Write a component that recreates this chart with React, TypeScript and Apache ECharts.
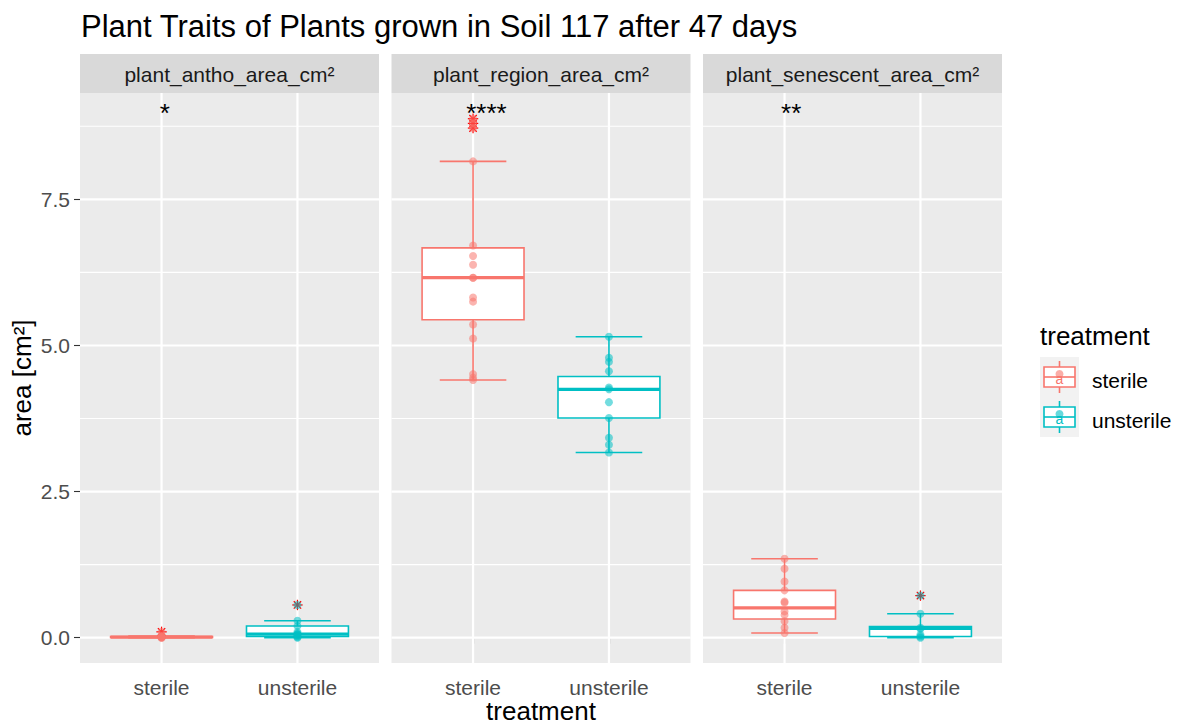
import React, { useEffect, useRef } from 'react';
import * as echarts from 'echarts';

const treatments = ['sterile', 'unsterile'];
const facets = ['plant_antho_area_cm²', 'plant_region_area_cm²', 'plant_senescent_area_cm²'];
const yTicks = [0, 2.5, 5, 7.5];
const yMinor = [1.25, 3.75, 6.25, 8.75];
const xPositions = [1, 2];

// [lower whisker, q1, median, q3, upper whisker]
const anthoSterileBox = [0, 0.004, 0.01, 0.02, 0.03];
const anthoUnsterileBox = [0, 0.02, 0.06, 0.2, 0.29];
const regionSterileBox = [4.41, 5.44, 6.16, 6.67, 8.15];
const regionUnsterileBox = [3.17, 3.76, 4.25, 4.47, 5.15];
const senescentSterileBox = [0.08, 0.32, 0.51, 0.81, 1.35];
const senescentUnsterileBox = [0, 0.02, 0.16, 0.19, 0.41];

const anthoSterilePoints = [0, 0, 0.01, 0.01, 0.02, 0.02, 0.03, 0.1];
const anthoUnsterilePoints = [0, 0.01, 0.03, 0.05, 0.06, 0.07, 0.1, 0.2, 0.29, 0.56];
const regionSterilePoints = [4.41, 4.45, 4.51, 5.12, 5.36, 5.75, 5.82, 6.16, 6.16, 6.38, 6.53, 6.71, 8.15, 8.72, 8.8, 8.88];
const regionUnsterilePoints = [3.17, 3.3, 3.42, 3.76, 4.03, 4.25, 4.28, 4.56, 4.72, 4.79, 5.15];
const senescentSterilePoints = [0.08, 0.17, 0.28, 0.39, 0.45, 0.6, 0.62, 0.81, 0.96, 1.18, 1.35];
const senescentUnsterilePoints = [0, 0.02, 0.05, 0.15, 0.17, 0.41, 0.72];

const anthoSterileOutliers = [0.1];
const anthoUnsterileOutliers = [0.56];
const regionSterileOutliers = [8.72, 8.8, 8.88];
const regionUnsterileOutliers: number[] = [];
const senescentSterileOutliers: number[] = [];
const senescentUnsterileOutliers = [0.72];

const sigLabels = ['*', '****', '**'];
const sigY = [8.98, 8.98, 8.98];

const boxes = [
  [anthoSterileBox, anthoUnsterileBox],
  [regionSterileBox, regionUnsterileBox],
  [senescentSterileBox, senescentUnsterileBox],
];
const points = [
  [anthoSterilePoints, anthoUnsterilePoints],
  [regionSterilePoints, regionUnsterilePoints],
  [senescentSterilePoints, senescentUnsterilePoints],
];
const outliers = [
  [anthoSterileOutliers, anthoUnsterileOutliers],
  [regionSterileOutliers, regionUnsterileOutliers],
  [senescentSterileOutliers, senescentUnsterileOutliers],
];

const FONT = '"Liberation Sans", Arial, Helvetica, sans-serif';
const COLORS = ['#F8766D', '#00BFC4'];
const PANEL_LEFT = [80, 391.5, 703];
const PANEL_TOP = 93;
const PANEL_W = 299;
const PANEL_H = 570;
const STRIP_H = 39;

function buildOption() {
  const grids: any[] = [];
  const xAxes: any[] = [];
  const yAxes: any[] = [];
  const series: any[] = [];
  const graphic: any[] = [];

  facets.forEach((facet, f) => {
    grids.push({
      left: PANEL_LEFT[f], top: PANEL_TOP, width: PANEL_W, height: PANEL_H,
      show: true, backgroundColor: '#EBEBEB', borderWidth: 0,
      containLabel: false, outerBoundsMode: 'none',
    });
    xAxes.push({
      type: 'value', gridIndex: f, min: 0.4, max: 2.6,
      axisLine: { show: false },
      splitLine: { show: false },
      axisTick: { show: true, customValues: xPositions, length: 6, lineStyle: { color: '#333333', width: 1.1 } },
      axisLabel: {
        show: true, customValues: xPositions, margin: 14,
        formatter: (v: number) => treatments[Math.round(v) - 1] ?? '',
        fontSize: 21, color: '#4D4D4D', fontFamily: FONT,
      },
      name: f === 1 ? 'treatment' : '',
      nameLocation: 'middle', nameGap: 35, nameMoveOverlap: false,
      nameTextStyle: { fontSize: 26, lineHeight: 26, color: '#000', fontFamily: FONT },
    });
    yAxes.push({
      type: 'value', gridIndex: f, min: -0.433, max: 9.32,
      axisLine: { show: false },
      splitLine: { show: false },
      axisTick: { show: f === 0, customValues: yTicks, length: 6, lineStyle: { color: '#333333', width: 1.1 } },
      axisLabel: {
        show: f === 0, customValues: yTicks, margin: 10,
        formatter: (v: number) => v.toFixed(1),
        fontSize: 21, color: '#4D4D4D', fontFamily: FONT,
      },
      name: f === 0 ? 'area [cm²]' : '',
      nameLocation: 'middle', nameGap: 45, nameRotate: 90, nameMoveOverlap: false,
      nameTextStyle: { fontSize: 26, color: '#000', fontFamily: FONT },
    });

    // gridlines
    const hLine = (width: number) => (params: any, api: any) => {
      const cs = params.coordSys;
      const y = api.coord([1, api.value(1)])[1];
      return { type: 'line', shape: { x1: cs.x, y1: y, x2: cs.x + cs.width, y2: y }, style: { stroke: '#FFFFFF', lineWidth: width } };
    };
    series.push({ type: 'custom', xAxisIndex: f, yAxisIndex: f, silent: true, data: yMinor.map((v) => [1, v]), renderItem: hLine(1.1) });
    series.push({ type: 'custom', xAxisIndex: f, yAxisIndex: f, silent: true, data: yTicks.map((v) => [1, v]), renderItem: hLine(2.2) });
    series.push({
      type: 'custom', xAxisIndex: f, yAxisIndex: f, silent: true,
      data: xPositions.map((x) => [x, 0]),
      renderItem: (params: any, api: any) => {
        const cs = params.coordSys;
        const x = api.coord([api.value(0), 0])[0];
        return { type: 'line', shape: { x1: x, y1: cs.y, x2: x, y2: cs.y + cs.height }, style: { stroke: '#FFFFFF', lineWidth: 2.2 } };
      },
    });

    treatments.forEach((t, ti) => {
      const color = COLORS[ti];
      const b = boxes[f][ti];
      series.push({
        type: 'custom', name: t, xAxisIndex: f, yAxisIndex: f, silent: true,
        data: [[ti + 1, ...b]],
        renderItem: (params: any, api: any) => {
          const x = api.value(0);
          const lo = api.coord([x, api.value(1)]);
          const q1 = api.coord([x - 0.375, api.value(2)]);
          const med = api.coord([x - 0.375, api.value(3)]);
          const q3 = api.coord([x + 0.375, api.value(4)]);
          const hi = api.coord([x, api.value(5)]);
          const capL = api.coord([x - 0.245, 0])[0];
          const capR = api.coord([x + 0.245, 0])[0];
          const lw = 1.6;
          return {
            type: 'group',
            children: [
              { type: 'line', shape: { x1: lo[0], y1: lo[1], x2: hi[0], y2: hi[1] }, style: { stroke: color, lineWidth: lw } },
              { type: 'line', shape: { x1: capL, y1: lo[1], x2: capR, y2: lo[1] }, style: { stroke: color, lineWidth: lw } },
              { type: 'line', shape: { x1: capL, y1: hi[1], x2: capR, y2: hi[1] }, style: { stroke: color, lineWidth: lw } },
              { type: 'rect', shape: { x: q1[0], y: q3[1], width: q3[0] - q1[0], height: q1[1] - q3[1] }, style: { fill: '#FFFFFF', stroke: color, lineWidth: lw } },
              { type: 'line', shape: { x1: q1[0], y1: med[1], x2: q3[0], y2: med[1] }, style: { stroke: color, lineWidth: lw * 2 } },
            ],
          };
        },
      });
    });

    treatments.forEach((t, ti) => {
      series.push({
        type: 'scatter', name: t, xAxisIndex: f, yAxisIndex: f, silent: true,
        symbol: 'circle', symbolSize: 8,
        itemStyle: { color: COLORS[ti], opacity: 0.55 },
        data: points[f][ti].map((v) => [ti + 1, v]),
      });
    });

    treatments.forEach((t, ti) => {
      series.push({
        type: 'custom', xAxisIndex: f, yAxisIndex: f, silent: true,
        data: outliers[f][ti].map((v) => [ti + 1, v]),
        renderItem: (params: any, api: any) => {
          const c = api.coord([api.value(0), api.value(1)]);
          const r = 5.2;
          const d = r * 0.7071;
          const st = { stroke: '#FF0000', lineWidth: 1.2 };
          return {
            type: 'group',
            children: [
              { type: 'line', shape: { x1: c[0] - r, y1: c[1], x2: c[0] + r, y2: c[1] }, style: st },
              { type: 'line', shape: { x1: c[0], y1: c[1] - r, x2: c[0], y2: c[1] + r }, style: st },
              { type: 'line', shape: { x1: c[0] - d, y1: c[1] - d, x2: c[0] + d, y2: c[1] + d }, style: st },
              { type: 'line', shape: { x1: c[0] - d, y1: c[1] + d, x2: c[0] + d, y2: c[1] - d }, style: st },
            ],
          };
        },
      });
    });

    series.push({
      type: 'custom', xAxisIndex: f, yAxisIndex: f, silent: true,
      data: [[1, sigY[f]]],
      renderItem: (params: any, api: any) => {
        const c = api.coord([api.value(0), api.value(1)]);
        const label = sigLabels[f];
        return {
          type: 'text', x: c[0] + label.length * 10.1 * 0.33, y: c[1],
          style: { text: label, fontSize: 26, fontFamily: FONT, fill: '#000000', align: 'center', verticalAlign: 'middle' },
        };
      },
    });

    graphic.push({ type: 'rect', shape: { x: PANEL_LEFT[f], y: PANEL_TOP - STRIP_H, width: PANEL_W, height: STRIP_H }, style: { fill: '#D9D9D9' }, silent: true });
    graphic.push({
      type: 'text', x: PANEL_LEFT[f] + PANEL_W / 2, y: PANEL_TOP - STRIP_H / 2 + 1,
      style: { text: facet, fontSize: 21, fontFamily: FONT, fill: '#1A1A1A', align: 'center', verticalAlign: 'middle' },
      silent: true,
    });
  });

  // legend
  graphic.push({
    type: 'text', x: 1040, y: 336,
    style: { text: 'treatment', fontSize: 26, fontFamily: FONT, fill: '#000000', align: 'left', verticalAlign: 'middle' },
  });
  treatments.forEach((t, ti) => {
    const top = 357 + 40 * ti;
    const color = COLORS[ti];
    const cx = 1059.5;
    graphic.push({ type: 'rect', shape: { x: 1040, y: top, width: 39, height: 40 }, style: { fill: '#F2F2F2' } });
    graphic.push({ type: 'line', shape: { x1: cx, y1: top + 4, x2: cx, y2: top + 36 }, style: { stroke: color, lineWidth: 1.6 } });
    graphic.push({ type: 'rect', shape: { x: 1044, y: top + 10, width: 31, height: 20 }, style: { fill: '#FFFFFF', stroke: color, lineWidth: 1.6 } });
    graphic.push({ type: 'line', shape: { x1: 1044, y1: top + 20, x2: 1075, y2: top + 20 }, style: { stroke: color, lineWidth: 1.6 } });
    graphic.push({ type: 'circle', shape: { cx, cy: top + 17, r: 4 }, style: { fill: color, opacity: 0.6 } });
    graphic.push({
      type: 'text', x: cx, y: top + 22,
      style: { text: 'a', fontSize: 14, fontFamily: FONT, fill: color, align: 'center', verticalAlign: 'middle' },
    });
    graphic.push({
      type: 'text', x: 1092, y: top + 23,
      style: { text: t, fontSize: 21, fontFamily: FONT, fill: '#000000', align: 'left', verticalAlign: 'middle' },
    });
  });

  return {
    animation: false,
    backgroundColor: '#FFFFFF',
    title: {
      text: 'Plant Traits of Plants grown in Soil 117 after 47 days',
      left: 76, top: 6,
      textStyle: { fontSize: 31, fontWeight: 'normal', color: '#000000', fontFamily: FONT },
    },
    grid: grids,
    xAxis: xAxes,
    yAxis: yAxes,
    series,
    graphic,
  };
}

export default function App() {
  const ref = useRef<HTMLDivElement>(null);
  useEffect(() => {
    const chart = echarts.init(ref.current!, null, { renderer: 'svg' });
    chart.setOption(buildOption() as any);
    return () => chart.dispose();
  }, []);
  return (
    <div
      ref={ref}
      style={{ position: 'absolute', left: 0, top: 0, width: 1180, height: 726, background: '#FFFFFF' }}
    />
  );
}
